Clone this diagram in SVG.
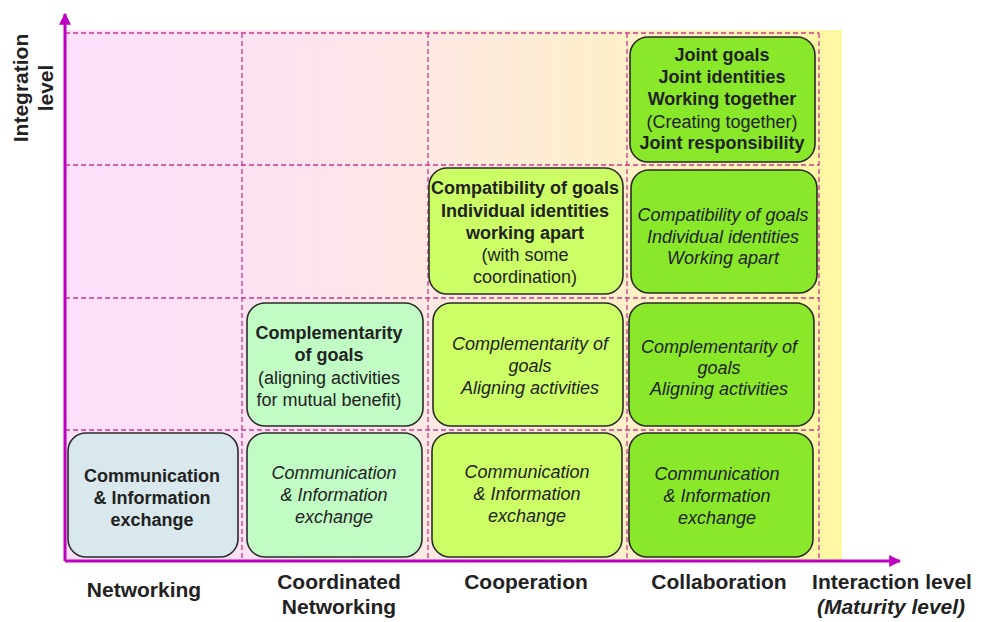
<svg xmlns="http://www.w3.org/2000/svg" width="983" height="622" viewBox="0 0 983 622">
<defs>
<linearGradient id="bg" x1="0" y1="0" x2="1" y2="0">
<stop offset="0" stop-color="#fcdffa"/>
<stop offset="0.25" stop-color="#fde2f2"/>
<stop offset="0.45" stop-color="#fde8e4"/>
<stop offset="0.65" stop-color="#feeed0"/>
<stop offset="0.85" stop-color="#fff3b8"/>
<stop offset="1" stop-color="#fff7a2"/>
</linearGradient>
<marker id="ah" viewBox="0 0 10 10" refX="9" refY="5" markerWidth="4" markerHeight="4" orient="auto" markerUnits="strokeWidth">
<path d="M0,0 L10,5 L0,10 z" fill="#c000c0"/>
</marker>
<style>
.box{stroke:#2a2a2a;stroke-width:1.6}
.net{fill:#d8e8ec}
.coord{fill:#c0fcc4}
.coop{fill:#ccff66}
.coll{fill:#8ae82a}
.grid{stroke:#cc3a90;stroke-width:1.3;stroke-dasharray:5 3;fill:none}
.t{font-family:"Liberation Sans",Arial,sans-serif;font-size:18px;fill:#222;text-anchor:middle}
.b{font-weight:bold}
.i{font-style:italic}
.ax{font-family:"Liberation Sans",Arial,sans-serif;font-size:21px;font-weight:bold;fill:#222;text-anchor:middle}
</style>
</defs>
<rect x="65" y="30" width="777" height="531" fill="url(#bg)"/>
<g id="grid">
<path class="grid" d="M65,33 H819 M65,165 H819 M65,298 H819 M65,430 H819 M242,33 V561 M428,33 V561 M627,33 V561 M819,33 V561"/>
</g>
<g id="connectors">
<line x1="65" y1="561" x2="65" y2="14" stroke="#c000c0" stroke-width="3" marker-end="url(#ah)"/>
<line x1="65" y1="561" x2="900" y2="561" stroke="#c000c0" stroke-width="3" marker-end="url(#ah)"/>
</g>
<g id="axis-y-label">
<text class="ax" transform="translate(28,88) rotate(-90)">Integration</text>
<text class="ax" transform="translate(53,88) rotate(-90)">level</text>
</g>
<g id="axis-x-labels">
<text class="ax" x="144" y="597">Networking</text>
<text class="ax" x="339" y="589">Coordinated</text>
<text class="ax" x="339" y="614">Networking</text>
<text class="ax" x="526" y="589">Cooperation</text>
<text class="ax" x="719" y="589">Collaboration</text>
<text class="ax" x="892" y="589">Interaction level</text>
<text class="ax i" x="891" y="614">(Maturity level)</text>
</g>
<g id="net1">
<rect class="box net" x="68" y="433" width="170" height="124" rx="18"/>
<text class="t b" x="152" y="482">Communication</text>
<text class="t b" x="152" y="504">&amp; Information</text>
<text class="t b" x="152" y="526">exchange</text>
</g>
<g id="coord1">
<rect class="box coord" x="247" y="433" width="175" height="124" rx="18"/>
<text class="t i" x="334" y="479">Communication</text>
<text class="t i" x="334" y="501">&amp; Information</text>
<text class="t i" x="334" y="523">exchange</text>
</g>
<g id="coord2">
<rect class="box coord" x="247" y="303" width="176" height="123" rx="18"/>
<text class="t b" x="329" y="339">Complementarity</text>
<text class="t b" x="329" y="361">of goals</text>
<text class="t" x="329" y="384">(aligning activities</text>
<text class="t" x="329" y="406">for mutual benefit)</text>
</g>
<g id="coop1">
<rect class="box coop" x="432" y="433" width="190" height="124" rx="18"/>
<text class="t i" x="527" y="478">Communication</text>
<text class="t i" x="527" y="500">&amp; Information</text>
<text class="t i" x="527" y="522">exchange</text>
</g>
<g id="coop2">
<rect class="box coop" x="433" y="303" width="190" height="123" rx="18"/>
<text class="t i" x="530" y="350">Complementarity of</text>
<text class="t i" x="530" y="372">goals</text>
<text class="t i" x="530" y="394">Aligning activities</text>
</g>
<g id="coop3">
<rect class="box coop" x="429" y="168" width="194" height="126" rx="18"/>
<text class="t b" x="525" y="194">Compatibility of goals</text>
<text class="t b" x="525" y="217">Individual identities</text>
<text class="t b" x="525" y="239">working apart</text>
<text class="t" x="525" y="261">(with some</text>
<text class="t" x="525" y="283">coordination)</text>
</g>
<g id="coll1">
<rect class="box coll" x="629" y="433" width="184" height="124" rx="18"/>
<text class="t i" x="717" y="480">Communication</text>
<text class="t i" x="717" y="502">&amp; Information</text>
<text class="t i" x="717" y="524">exchange</text>
</g>
<g id="coll2">
<rect class="box coll" x="629" y="303" width="185" height="123" rx="18"/>
<text class="t i" x="719" y="353">Complementarity of</text>
<text class="t i" x="719" y="374">goals</text>
<text class="t i" x="719" y="395">Aligning activities</text>
</g>
<g id="coll3">
<rect class="box coll" x="631" y="170" width="186" height="123" rx="18"/>
<text class="t i" x="723" y="221">Compatibility of goals</text>
<text class="t i" x="723" y="243">Individual identities</text>
<text class="t i" x="723" y="264">Working apart</text>
</g>
<g id="coll4">
<rect class="box coll" x="630" y="37" width="185" height="125" rx="18"/>
<text class="t b" x="722" y="61">Joint goals</text>
<text class="t b" x="722" y="83">Joint identities</text>
<text class="t b" x="722" y="105">Working together</text>
<text class="t" x="722" y="128">(Creating together)</text>
<text class="t b" x="722" y="149">Joint responsibility</text>
</g>
</svg>
